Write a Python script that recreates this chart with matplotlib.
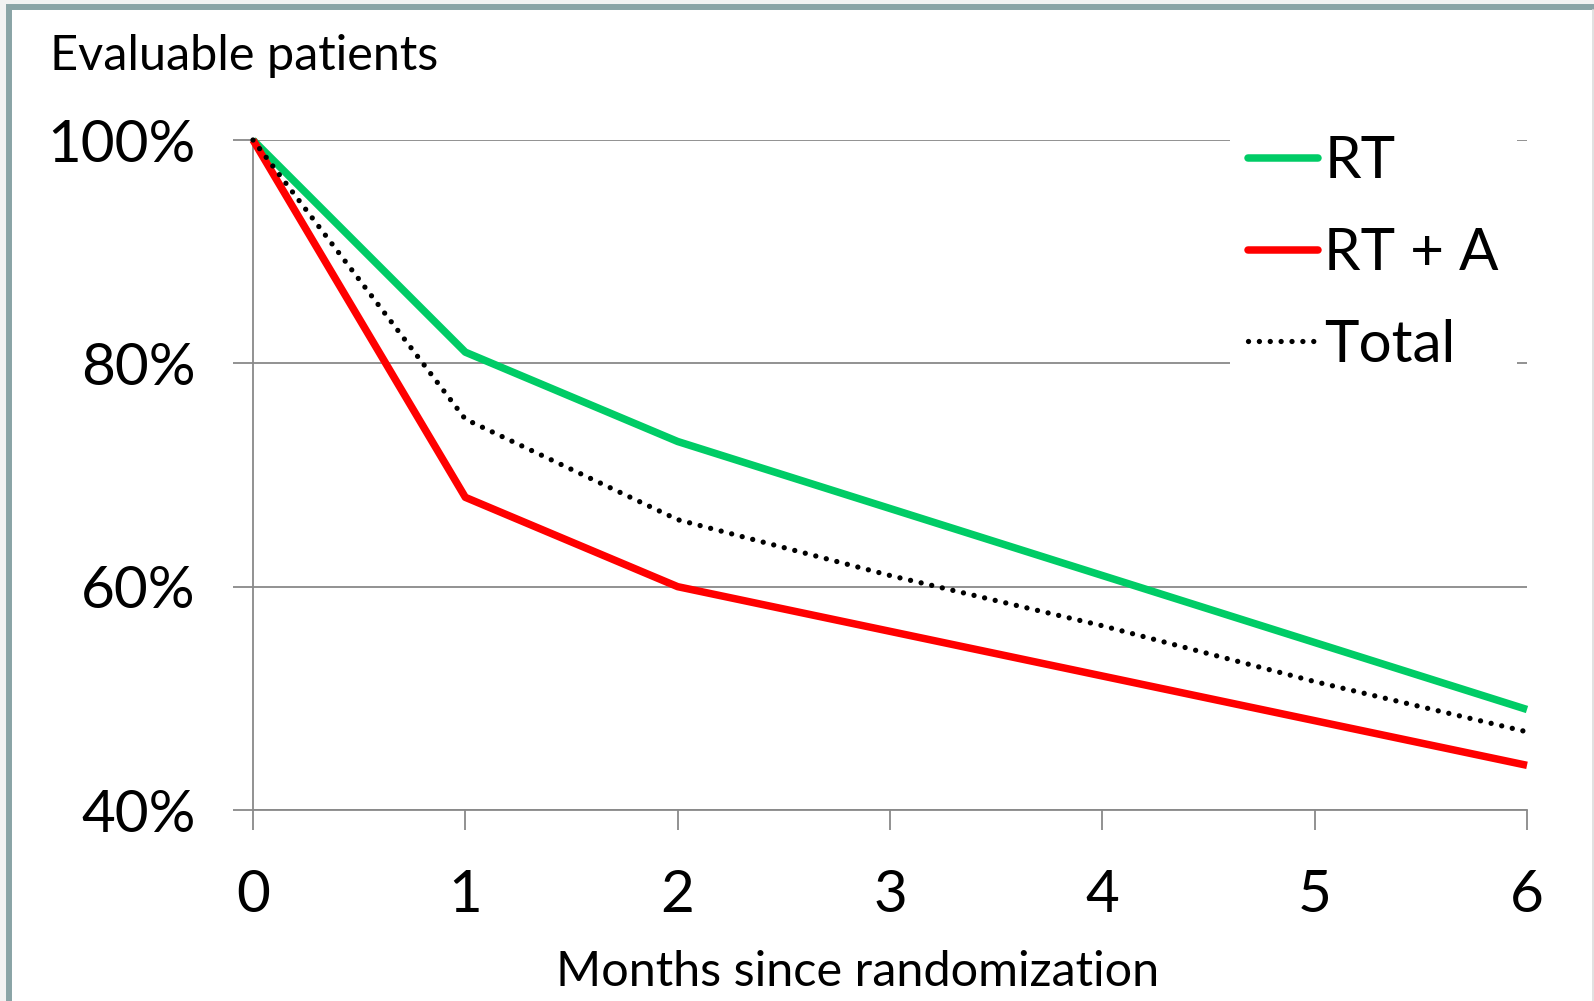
import matplotlib
matplotlib.use("Agg")
import matplotlib.pyplot as plt
from matplotlib.patches import Rectangle
from matplotlib.lines import Line2D

months = [0, 1, 2, 3, 4, 5, 6]
rt = [100, 81, 73, 67, 61, 55, 49]
rt_a = [100, 68, 60, 56, 52, 48, 44]
total = [100, 75, 66, 61, 56.5, 51.5, 47]
y_ticks = [40, 60, 80, 100]
y_tick_labels = ["40%", "60%", "80%", "100%"]
x_tick_labels = ["0", "1", "2", "3", "4", "5", "6"]
series_names = ["RT", "RT + A", "Total"]

W, H = 1594, 1001
DPI = 100
plt.rcParams['font.family'] = ['Lato', 'DejaVu Sans']

fig = plt.figure(figsize=(W / DPI, H / DPI), dpi=DPI, facecolor='#f2f2f2')

# frame
px = 1.0 / W
py = 1.0 / H
frame = Rectangle((9 * px, -0.05), 1.2, 1.05 - 7.5 * py, transform=fig.transFigure,
                  facecolor='white', edgecolor='#8aa4a6', linewidth=4.3, zorder=-10)
fig.patches.append(frame)
fig.add_artist(Line2D([1593 * px, 1593 * px], [0, 1 - 10 * py], transform=fig.transFigure,
                      color='#dcdcdc', linewidth=1.2, zorder=-5))

ax = fig.add_axes([253 * px, 1 - 810 * py, (1527 - 253) * px, (810 - 140) * py])
ax.set_zorder(1)
ax.set_facecolor('none')

grid_c = '#898989'
ax.plot(months, rt, color='#00cc66', linewidth=5.4, solid_capstyle='butt', clip_on=False, zorder=3, label=series_names[0])
ax.plot(months, rt_a, color='#ff0000', linewidth=5.4, solid_capstyle='butt', clip_on=False, zorder=3, label=series_names[1])
ax.plot(months, total, color='black', linewidth=3.8, linestyle=(0, (0.01, 2.05)),
        dash_capstyle='round', clip_on=False, zorder=4, label=series_names[2])

ax.set_xlim(0, 6)
ax.set_ylim(40, 100)
ax.set_yticks(y_ticks)
ax.set_yticklabels(y_tick_labels)
ax.set_xticks(months)
ax.set_xticklabels(x_tick_labels)

for s in ['top', 'right']:
    ax.spines[s].set_visible(False)
for s in ['left', 'bottom']:
    ax.spines[s].set_color(grid_c)
    ax.spines[s].set_linewidth(1.3)

ax.yaxis.grid(True, color=grid_c, linewidth=1.3)
ax.set_axisbelow(True)
ax.tick_params(axis='both', direction='out', length=14.4, width=1.3, color=grid_c,
               labelsize=42, labelcolor='black')
ax.tick_params(axis='y', pad=27)
ax.tick_params(axis='x', pad=28)

leg = ax.legend(loc='upper left', bbox_to_anchor=(1230 * px, 1 - 118 * py),
                bbox_transform=fig.transFigure, frameon=True, fancybox=False,
                facecolor='white', edgecolor='none', framealpha=1,
                fontsize=42, handlelength=1.2, handletextpad=0.12,
                labelspacing=0.66, borderpad=0.3, borderaxespad=0)
leg.set_zorder(5)
for h in leg.get_lines()[:2]:
    h.set_solid_capstyle('round')

fig.text(50 * px, 1 - 70 * py, "Evaluable patients", fontsize=35, va='baseline', ha='left')
fig.text(858 * px, 1 - 986 * py, "Months since randomization", fontsize=35, va='baseline', ha='center')

fig.savefig('out.png', dpi=DPI, facecolor=fig.get_facecolor())
